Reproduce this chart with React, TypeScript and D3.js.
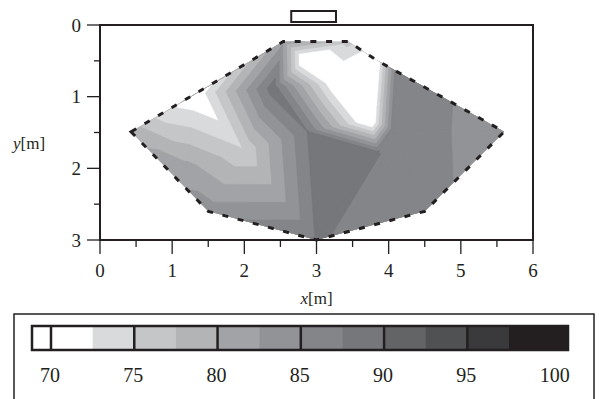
import React from 'react'
import * as d3 from 'd3'

// measurement points (x, y in m) and their values
const pointX = [0.43, 0.85, 1.5, 3.0, 4.5, 5.6, 4.1, 3.83, 3.44, 2.54, 1.32, 2.85, 3.75, 3.3, 2.4, 2.88, 3.85, 4.05, 2.0, 1.2]
const pointY = [1.49, 1.24, 2.6, 3.0, 2.6, 1.49, 0.64, 0.49, 0.23, 0.23, 0.96, 0.48, 1.33, 0.8, 0.88, 1.49, 1.77, 1.45, 1.75, 2.0]
const pointValue = [79, 73.8, 83.8, 87.8, 85.5, 84.1, 86, 69, 76, 82, 70, 68, 68, 68.5, 89, 87.6, 87.6, 86, 75.2, 81]

// measured area outline
const outlineX = [0.43, 2.54, 3.44, 3.83, 5.6, 4.5, 3.0, 1.5]
const outlineY = [1.49, 0.23, 0.23, 0.49, 1.49, 2.6, 3.0, 2.6]

// colour classes
const levels = [72.5, 75, 77.5, 80, 82.5, 85, 87.5, 90, 92.5, 95, 97.5]
const levelColors = ['#d9dadc', '#c5c6c8', '#b3b4b6', '#a2a3a6', '#929396', '#848588', '#76777a', '#636466', '#505153', '#3a3a3c', '#231f20']
const legendLabels = [70, 75, 80, 85, 90, 95, 100]
const legendMajor = [70, 75, 80, 85, 90, 95]

const xTicks = [0, 1, 2, 3, 4, 5, 6]
const yTicks = [0, 1, 2, 3]
const serif = "Times New Roman, Liberation Serif, DejaVu Serif, serif"

type P = [number, number, number]

// keep the part of a polygon where value >= t (linear along the edges)
function clipAbove(poly: P[], t: number): P[] {
  const out: P[] = []
  for (let i = 0; i < poly.length; i++) {
    const a = poly[i]
    const b = poly[(i + 1) % poly.length]
    const ina = a[2] >= t
    const inb = b[2] >= t
    if (ina) out.push(a)
    if (ina !== inb) {
      const f = (t - a[2]) / (b[2] - a[2])
      out.push([a[0] + f * (b[0] - a[0]), a[1] + f * (b[1] - a[1]), t])
    }
  }
  return out
}

export default function App() {
  const x = d3.scaleLinear().domain([0, 6]).range([100, 533])
  const y = d3.scaleLinear().domain([0, 3]).range([25, 240])

  const pts: P[] = pointX.map((px, i) => [px, pointY[i], pointValue[i]])
  const delaunay = d3.Delaunay.from(pts, d => d[0], d => d[1])
  const tris: P[][] = []
  for (let i = 0; i < delaunay.triangles.length; i += 3) {
    tris.push([pts[delaunay.triangles[i]], pts[delaunay.triangles[i + 1]], pts[delaunay.triangles[i + 2]]])
  }

  const line = d3.line<P>().x(d => x(d[0])).y(d => y(d[1]))
  const layers = levels.map((t, k) => {
    const paths = tris
      .map(tri => clipAbove(tri, t))
      .filter(p => p.length >= 3)
      .map(p => line(p) + 'Z')
    return { t, color: levelColors[k], paths }
  })

  const outline = outlineX.map((ox, i) => [x(ox), y(outlineY[i])])
  const outlinePath = 'M' + outline.map(p => p.join(',')).join('L') + 'Z'

  // legend scale
  const lx = d3.scaleLinear().domain([70, 97.5]).range([51, 509])
  const legendTop = 326
  const legendH = 24

  return (
    <svg width={599} height={399} style={{ position: 'absolute', left: 0, top: 0, background: '#fff' }}
      fontFamily={serif} fill="#231f20">
      <defs>
        <clipPath id="area">
          <path d={outlinePath} />
        </clipPath>
      </defs>

      <g clipPath="url(#area)">
        <path d={outlinePath} fill="#fff" />
        {layers.map(l => (
          <g key={l.t} fill={l.color} stroke={l.color} strokeWidth={0.6} strokeLinejoin="round">
            {l.paths.map((d, i) => <path key={i} d={d} />)}
          </g>
        ))}
      </g>
      <path d={outlinePath} fill="none" stroke="#231f20" strokeWidth={3} strokeDasharray="6 9.7" />

      {/* frame */}
      <rect x={x(0)} y={y(0)} width={x(6) - x(0)} height={y(3) - y(0)} fill="none" stroke="#231f20" strokeWidth={2} />

      {/* top marker */}
      <rect x={x(2.65)} y={11} width={x(3.27) - x(2.65)} height={11} fill="#fff" stroke="#231f20" strokeWidth={2} />

      {/* x axis */}
      {d3.range(0, 6.01, 0.5).map(v => (
        <line key={'xt' + v} x1={x(v)} x2={x(v)} y1={y(3)} y2={y(3) + (v % 1 === 0 ? 14 : 7)} stroke="#231f20" strokeWidth={1.3} />
      ))}
      {xTicks.map(v => (
        <text key={'xl' + v} x={x(v)} y={277} textAnchor="middle" fontSize={19}>{v}</text>
      ))}
      <text x={x(3)} y={304} textAnchor="middle" fontSize={17}>
        <tspan fontStyle="italic">x</tspan>[m]
      </text>

      {/* y axis */}
      {d3.range(0, 3.01, 0.5).map(v => (
        <line key={'yt' + v} x1={x(0) - (v % 1 === 0 ? 13 : 6)} x2={x(0)} y1={y(v)} y2={y(v)} stroke="#231f20" strokeWidth={1.3} />
      ))}
      {yTicks.map(v => (
        <text key={'yl' + v} x={81} y={y(v) + 6.5} textAnchor="end" fontSize={19}>{v}</text>
      ))}
      <text x={13} y={149} fontSize={17}>
        <tspan fontStyle="italic">y</tspan>[m]
      </text>

      {/* legend */}
      <rect x={14} y={314} width={580} height={100} fill="#fff" stroke="#231f20" strokeWidth={1.5} />
      <rect x={32} y={legendTop} width={lx(70) - 32} height={legendH} fill="#fff" />
      <rect x={lx(70)} y={legendTop} width={lx(72.5) - lx(70)} height={legendH} fill="#fff" />
      {levels.map((t, k) => {
        const x0 = lx(t)
        const x1 = k === levels.length - 1 ? 568 : lx(levels[k + 1])
        return <rect key={'lg' + t} x={x0} y={legendTop} width={x1 - x0 + 0.5} height={legendH} fill={levelColors[k]} />
      })}
      <rect x={32} y={legendTop} width={568 - 32} height={legendH} fill="none" stroke="#231f20" strokeWidth={2.5} />
      {legendMajor.map(v => (
        <line key={'lm' + v} x1={lx(v)} x2={lx(v)} y1={legendTop} y2={legendTop + legendH} stroke="#231f20" strokeWidth={2.5} />
      ))}
      {legendLabels.map(v => (
        <text key={'ll' + v} x={lx(v) + (v === 100 ? 4 : -1)} y={382} textAnchor="middle" fontSize={20}>{v}</text>
      ))}
    </svg>
  )
}
